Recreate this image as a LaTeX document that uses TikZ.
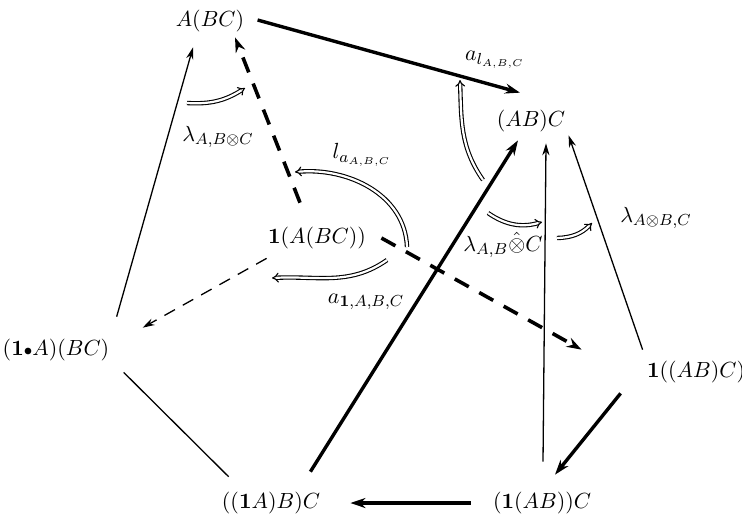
\documentclass[tikz,border=0pt]{standalone}
\usepackage{amsmath}
\usetikzlibrary{arrows.meta}

\begin{document}
\begin{tikzpicture}[x=0.5pt,y=-0.5pt,
    every node/.style={font=\fontsize{11}{13}\selectfont, inner sep=2pt},
    thin arr/.style={line width=0.65pt, -{Stealth[length=6pt,width=3.6pt]}},
    thick arr/.style={line width=1.7pt, -{Stealth[length=7.5pt,width=5pt]}},
    dash thin/.style={thin arr, dash pattern=on 6pt off 4.5pt},
    dash thick/.style={thick arr, line width=1.8pt, dash pattern=on 8pt off 6pt},
    cell/.style={double, double distance=1.1pt, line width=0.55pt, -{Implies}}]
    \useasboundingbox (0,0) rectangle (742,526);

    % objects
    \node (abc)   at (210,21)  {$A(BC)$};
    \node (abc2)  at (531,121) {$(AB)C$};
    \node (iabc)  at (317,238) {$\mathbf{1}(A(BC))$};
    \node (ia)    at (56,350)  {$\mathbf{(1}{\scriptstyle\bullet}A\mathbf{)}(BC)$};
    \node (iabcr) at (696,372) {$\mathbf{1}((AB)C)$};
    \node (iab)   at (271,503) {$\mathbf{((1}A)B)C$};
    \node (iabr)  at (542,503) {$\mathbf{(1}(AB))C$};

    % arrows between objects
    \draw[thick arr] ([shift={(9,-1)}]abc.east) -- ([shift={(-11,-13)}]abc2.north);
    \draw[thin arr] ([shift={(3,-18)}]ia.north east) -- ([shift={(-17,11)}]abc.south);
    \draw[line width=0.65pt] ([shift={(10,7)}]ia.south east) -- ([shift={(11,-11)}]iab.north west);
    \draw[thick arr] ([shift={(-14,-16)}]iab.north east) -- ([shift={(-13,4)}]abc2.south);
    \draw[thin arr] ([shift={(1,-26)}]iabr.north) -- ([shift={(15,7)}]abc2.south);
    \draw[thin arr] ([shift={(0,-7)}]iabcr.north west) -- ([shift={(-1,-1)}]abc2.south east);
    \draw[thick arr] ([shift={(-22,6)}]iabcr.south west) -- ([shift={(13,-13)}]iabr.north);
    \draw[thick arr] ([shift={(-18,0)}]iabr.west) -- ([shift={(26,0)}]iab.east);
    \draw[dash thick] ([shift={(-17,-20)}]iabc.north) -- ([shift={(25,1)}]abc.south);
    \draw[dash thin] ([shift={(3,5)}]iabc.south west) -- ([shift={(29,-7)}]ia.north east);
    \draw[dash thick] ([shift={(11,0)}]iabc.east) -- ([shift={(-61,-7)}]iabcr.north west);

    % 2-cells
    \coordinate (c1a) at (187,103); \coordinate (c1b) at (245,88);
    \coordinate (c2a) at (407,247); \coordinate (c2b) at (295,172);
    \coordinate (c3a) at (387,260); \coordinate (c3b) at (272,278);
    \coordinate (c4a) at (483,180); \coordinate (c4b) at (460,80);
    \coordinate (c5a) at (488,213); \coordinate (c5b) at (542,222);
    \coordinate (c6a) at (557,238); \coordinate (c6b) at (592,223);
    \draw[cell] (c1a) to[bend right=18] (c1b);
    \draw[cell] (c2a) to[out=92,in=5] (c2b);
    \draw[cell] (c3a) to[out=215,in=3] (c3b);
    \draw[cell] (c4a) to[out=125,in=-88] (c4b);
    \draw[cell] (c5a) to[bend right=25] (c5b);
    \draw[cell] (c6a) to[bend right=22] (c6b);

    % labels
    \node (lam1) at (218,137) {$\lambda_{A,B\otimes C}$};
    \node (la)   at (362,155) {$l_{a_{A,B,C}}$};
    \node (a1)   at (366,302) {$a_{\mathbf{1},A,B,C}$};
    \node (al)   at (495,60)  {$a_{l_{A,B,C}}$};
    \node (lam2) at (503,245) {$\lambda_{A,B}\hat{\otimes}C$};
    \node (lam3) at (656,218) {$\lambda_{A\otimes B,C}$};
\end{tikzpicture}
\end{document}
